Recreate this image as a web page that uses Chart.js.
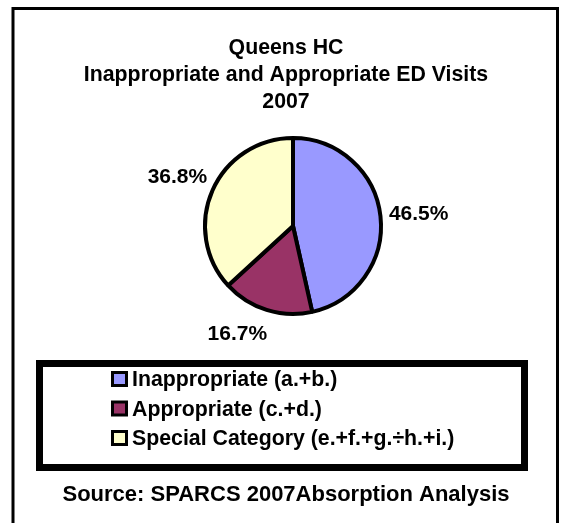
<!DOCTYPE html>
<html>
<head>
<meta charset="utf-8">
<script src="https://cdn.jsdelivr.net/npm/chart.js@4/dist/chart.umd.min.js"></script>
<style>
  html, body { margin: 0; padding: 0; background: #fff; }
  #wrap { width: 563px; height: 523px; position: relative; }
</style>
</head>
<body>
<div id="wrap"><canvas id="edChart"></canvas></div>
<script>
const titleLines = ['Queens HC', 'Inappropriate and Appropriate ED Visits', '2007'];
const categories = ['Inappropriate (a.+b.)', 'Appropriate (c.+d.)', 'Special Category (e.+f.+g.\u00f7h.+i.)'];
const shares = [46.5, 16.7, 36.8];
const sliceColors = ['#9999FF', '#993366', '#FFFFCC'];
const sourceNote = 'Source: SPARCS 2007Absorption Analysis';

// small horizontal nudges for the percent labels (Excel moved the bottom one left)
const labelShiftX = [0, -22, 0];

const FONT = '"Liberation Sans", Arial, sans-serif';

const decor = {
  id: 'decor',
  afterDraw(chart) {
    const ctx = chart.ctx;
    ctx.save();

    // outer frame
    ctx.strokeStyle = '#000';
    ctx.lineWidth = 3;
    ctx.strokeRect(13, 8.5, 544.5, 530);

    // title
    ctx.fillStyle = '#000';
    ctx.font = 'bold 21.3px ' + FONT;
    ctx.textAlign = 'center';
    ctx.textBaseline = 'alphabetic';
    titleLines.forEach((t, i) => ctx.fillText(t, 286, 54 + i * 27));

    // percent labels outside each slice
    ctx.font = 'bold 21px ' + FONT;
    const meta = chart.getDatasetMeta(0);
    meta.data.forEach((arc, i) => {
      const p = arc.getProps(['x', 'y', 'startAngle', 'endAngle', 'outerRadius'], true);
      const mid = (p.startAngle + p.endAngle) / 2;
      const text = chart.data.datasets[0].data[i].toFixed(1) + '%';
      const halfW = ctx.measureText(text).width / 2;
      const halfH = 7.5;
      const c = Math.cos(mid), s = Math.sin(mid);
      const d = p.outerRadius + 8 + Math.abs(c) * halfW + Math.abs(s) * halfH;
      ctx.fillText(text, p.x + c * d + labelShiftX[i], p.y + s * d + halfH);
    });

    // legend box
    ctx.font = 'bold 21.3px ' + FONT;
    ctx.lineWidth = 7;
    ctx.strokeRect(39.5, 363.5, 485, 104);
    ctx.textAlign = 'left';
    chart.data.labels.forEach((label, i) => {
      const base = 386 + i * 29.5;
      ctx.fillStyle = chart.data.datasets[0].backgroundColor[i];
      ctx.fillRect(112, base - 14, 15, 14);
      ctx.lineWidth = 3;
      ctx.strokeStyle = '#000';
      ctx.strokeRect(112.5, base - 13.5, 14, 13);
      ctx.fillStyle = '#000';
      ctx.fillText(label, 132, base);
    });

    // source line
    ctx.font = 'bold 22px ' + FONT;
    ctx.textAlign = 'center';
    ctx.fillText(sourceNote, 286, 501);

    ctx.restore();
  }
};

new Chart('edChart', {
  type: 'pie',
  data: {
    labels: categories,
    datasets: [{
      data: shares,
      backgroundColor: sliceColors,
      borderColor: '#000',
      borderWidth: 4,
      hoverBorderWidth: 4,
      hoverOffset: 0,
      offset: 0
    }]
  },
  options: {
    responsive: true,
    maintainAspectRatio: false,
    animation: false,
    layout: { padding: { top: 136, left: 203, right: 180, bottom: 207 } },
    plugins: {
      legend: { display: false },
      title: { display: false },
      tooltip: { enabled: false }
    }
  },
  plugins: [decor]
});
</script>
</body>
</html>
